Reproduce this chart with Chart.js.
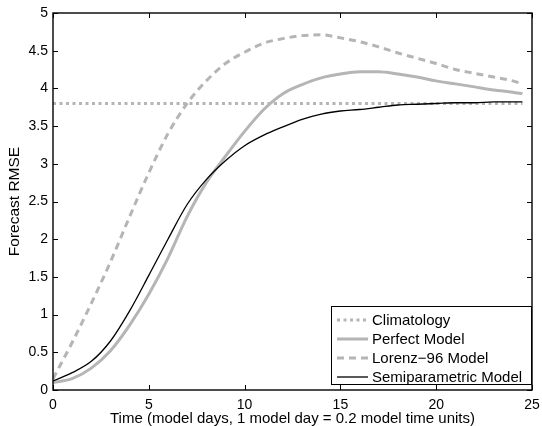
<!DOCTYPE html>
<html>
<head>
<meta charset="utf-8">
<title>Forecast RMSE</title>
<script src="https://cdn.jsdelivr.net/npm/chart.js@4.4.0/dist/chart.umd.min.js"></script>
<style>
    html, body { margin: 0; padding: 0; background: #fff; }
    #wrap { width: 542px; height: 426px; }
</style>
</head>
<body>
<div id="wrap"><canvas id="rmse-chart" width="542" height="426"></canvas></div>
<script>
// Lead times (model days) and RMSE
const leadTimes = [0, 1, 2, 3, 4, 5, 6, 7, 8, 9, 10, 11, 12, 13, 14, 15, 16, 17, 18, 19, 20, 21, 22, 23, 24, 24.5];
const climatologyTimes = [0, 24.5];
const climatologyRmse = [3.8, 3.8];
const perfectRmse = [0.10, 0.15, 0.29, 0.52, 0.86, 1.27, 1.75, 2.30, 2.75, 3.10, 3.43, 3.72, 3.93, 4.05, 4.14, 4.19, 4.22, 4.22, 4.19, 4.15, 4.10, 4.06, 4.02, 3.98, 3.95, 3.93];
const lorenzRmse = [0.15, 0.63, 1.15, 1.70, 2.30, 2.88, 3.40, 3.80, 4.10, 4.33, 4.48, 4.60, 4.66, 4.70, 4.71, 4.67, 4.62, 4.55, 4.47, 4.40, 4.33, 4.25, 4.20, 4.15, 4.10, 4.06];
const semiparametricRmse = [0.12, 0.23, 0.38, 0.65, 1.05, 1.52, 2.00, 2.46, 2.79, 3.04, 3.24, 3.38, 3.49, 3.59, 3.66, 3.70, 3.72, 3.75, 3.78, 3.79, 3.80, 3.81, 3.81, 3.82, 3.82, 3.82];
const xTicks = [0, 5, 10, 15, 20, 25];
const yTicks = [0, 0.5, 1, 1.5, 2, 2.5, 3, 3.5, 4, 4.5, 5];
const legendOrder = [0, 1, 2, 3];

const GRAY = '#b5b5b5';
const FONT = 'Liberation Sans, Arial, Helvetica, sans-serif';

Chart.defaults.font.family = FONT;
Chart.defaults.font.size = 14;
Chart.defaults.color = '#000';

function toPoints(xs, ys) {
    return ys.map((y, i) => ({ x: xs[i], y: y }));
}

// Axes box with inward ticks on all four sides
const boxPlugin = {
    id: 'matlabBox',
    afterDatasetsDraw(chart) {
        const { ctx, chartArea: a, scales } = chart;
        const len = 5;
        ctx.save();
        ctx.strokeStyle = '#000';
        ctx.lineWidth = 1;
        ctx.beginPath();
        scales.x.ticks.forEach(t => {
            const px = Math.round(scales.x.getPixelForValue(t.value)) + 0.5;
            ctx.moveTo(px, a.bottom); ctx.lineTo(px, a.bottom - len);
            ctx.moveTo(px, a.top); ctx.lineTo(px, a.top + len);
        });
        scales.y.ticks.forEach(t => {
            const py = Math.round(scales.y.getPixelForValue(t.value)) + 0.5;
            ctx.moveTo(a.left, py); ctx.lineTo(a.left + len, py);
            ctx.moveTo(a.right, py); ctx.lineTo(a.right - len, py);
        });
        ctx.stroke();
        ctx.lineWidth = 1.4;
        ctx.strokeRect(a.left, a.top, a.right - a.left, a.bottom - a.top);
        ctx.restore();
    }
};

// Boxed legend in the lower right corner of the axes
const legendPlugin = {
    id: 'boxLegend',
    afterDraw(chart) {
        const { ctx, chartArea: a } = chart;
        const items = legendOrder.map(i => chart.data.datasets[i]);
        const w = 201, rowH = 19, h = 79;
        const x0 = a.right - w, y0 = a.bottom - 5 - h;
        ctx.save();
        ctx.fillStyle = '#fff';
        ctx.fillRect(x0, y0, w, h);
        ctx.strokeStyle = '#000';
        ctx.lineWidth = 1;
        ctx.strokeRect(x0 + 0.5, y0 + 0.5, w - 1, h - 1);
        ctx.font = '15px ' + FONT;
        ctx.textBaseline = 'middle';
        items.forEach((ds, i) => {
            const y = y0 + 14 + i * rowH;
            ctx.beginPath();
            ctx.strokeStyle = ds.borderColor;
            ctx.lineWidth = ds.borderWidth;
            ctx.setLineDash(ds.borderDash || []);
            ctx.moveTo(x0 + 6, y);
            ctx.lineTo(x0 + 37, y);
            ctx.stroke();
            ctx.setLineDash([]);
            ctx.fillStyle = '#000';
            ctx.fillText(ds.label, x0 + 41, y + 1);
        });
        ctx.restore();
    }
};

const ctx = document.getElementById('rmse-chart').getContext('2d');
const rmseChart = new Chart(ctx, {
    type: 'line',
    data: {
        datasets: [
            {
                label: 'Climatology',
                data: toPoints(climatologyTimes, climatologyRmse),
                borderColor: GRAY,
                borderWidth: 3,
                borderDash: [3, 3.5],
                order: 4
            },
            {
                label: 'Perfect Model',
                data: toPoints(leadTimes, perfectRmse),
                borderColor: GRAY,
                borderWidth: 3,
                order: 3
            },
            {
                label: 'Lorenz\u221296 Model',
                data: toPoints(leadTimes, lorenzRmse),
                borderColor: GRAY,
                borderWidth: 3,
                borderDash: [7, 5],
                order: 2
            },
            {
                label: 'Semiparametric Model',
                data: toPoints(leadTimes, semiparametricRmse),
                borderColor: '#000',
                borderWidth: 1.3,
                order: 1
            }
        ]
    },
    options: {
        responsive: false,
        animation: false,
        layout: { padding: { top: 13, right: 10, left: 0, bottom: 0 } },
        elements: {
            point: { radius: 0 },
            line: { cubicInterpolationMode: 'monotone', fill: false }
        },
        plugins: {
            legend: { display: false },
            tooltip: { enabled: false }
        },
        scales: {
            x: {
                type: 'linear',
                min: 0,
                max: 25,
                afterBuildTicks: scale => { scale.ticks = xTicks.map(v => ({ value: v })); },
                afterFit: scale => {
                    scale.height = 36;
                    scale.paddingLeft = 0;
                    scale.paddingRight = 0;
                },
                grid: { display: false, drawTicks: false },
                border: { display: false },
                ticks: { padding: 7, maxRotation: 0, callback: v => String(v) },
                title: {
                    display: true,
                    text: 'Time (model days, 1 model day = 0.2 model time units)',
                    font: { size: 15 },
                    padding: { top: 0, bottom: -2 }
                }
            },
            y: {
                min: 0,
                max: 5,
                afterBuildTicks: scale => { scale.ticks = yTicks.map(v => ({ value: v })); },
                afterFit: scale => {
                    scale.width = 53;
                    scale.paddingTop = 0;
                    scale.paddingBottom = 0;
                },
                grid: { display: false, drawTicks: false },
                border: { display: false },
                ticks: { padding: 5, callback: v => String(v) },
                title: {
                    display: true,
                    text: 'Forecast RMSE',
                    font: { size: 15.5 },
                    padding: { top: 5, bottom: 0 }
                }
            }
        }
    },
    plugins: [boxPlugin, legendPlugin]
});
</script>
</body>
</html>
